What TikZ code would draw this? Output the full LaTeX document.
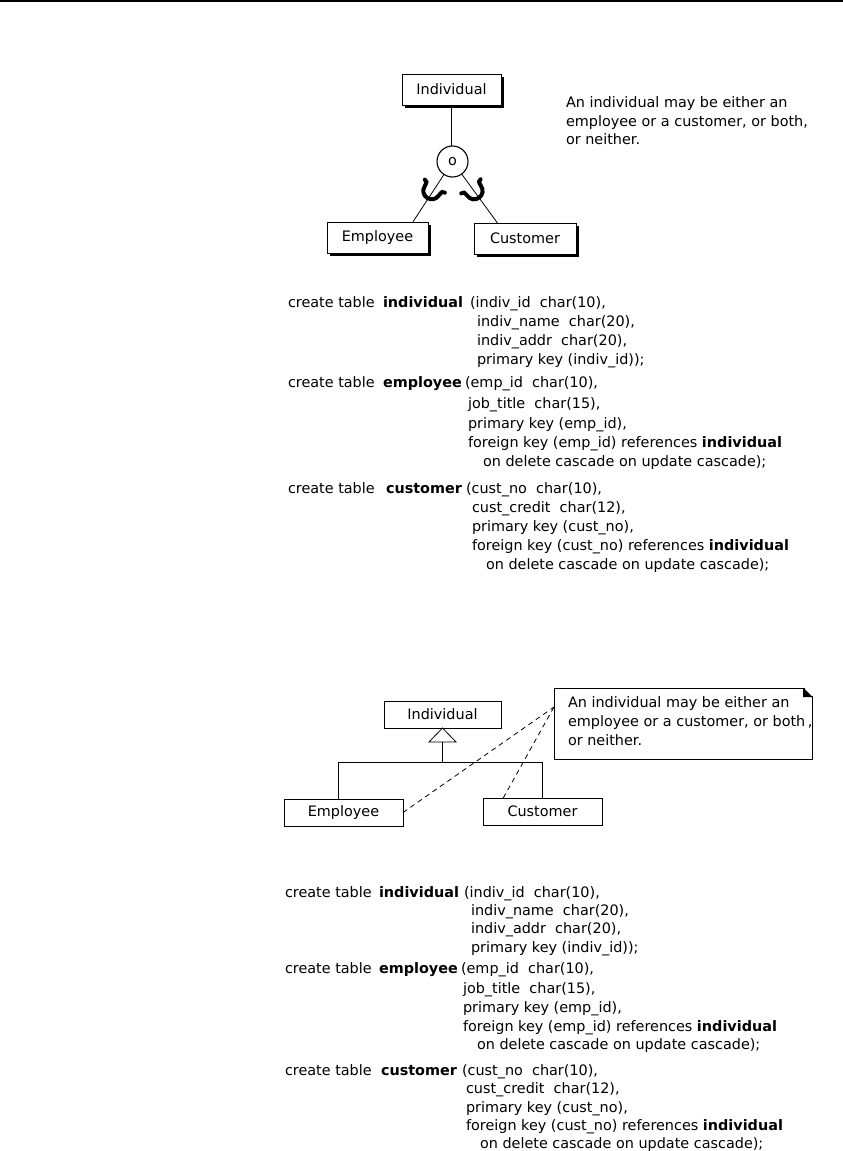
\documentclass[tikz,border=0pt]{standalone}
\usepackage{fontspec}
\setmainfont{DejaVu Sans}
\usetikzlibrary{calc,shadows}
\begin{document}
\begin{tikzpicture}[x=1pt,y=-1pt,
  font=\fontsize{14.4}{19}\selectfont,
  every node/.style={inner sep=0pt,outer sep=0pt},
  sq/.style={anchor=base west},
  erbox/.style={draw=black,line width=1pt,fill=white,
    drop shadow={shadow xshift=3pt,shadow yshift=-3pt,fill=black,opacity=1}},
  umlbox/.style={draw=black,line width=0.9pt,fill=white},
  conn/.style={draw=black,line width=0.8pt},
  noteline/.style={draw=black,line width=0.8pt,dash pattern=on 5pt off 4pt},
  subsetU/.style={line width=4pt,line cap=round}]
\useasboundingbox (0,0) rectangle (843,1151);
\fill[white] (0,0) rectangle (843,1151);
\draw[line width=2pt] (0,1) -- (843,1);

% ---------- top EER diagram ----------
\node[erbox,minimum width=99,minimum height=31] (ind1) at (451.5,89.5) {Individual};
\node[draw=black,line width=1.1pt,fill=white,circle,minimum size=31] (c1) at (452.5,161.5) {};
\node (c1o) at (c1) {o};
\node[erbox,minimum width=101,minimum height=31] (emp1) at (377.5,237.5) {Employee};
\node[erbox,minimum width=102,minimum height=31] (cus1) at (525,238.5) {Customer};
\coordinate (e1t) at ($(emp1.north west)!0.85!(emp1.north east)$);
\coordinate (c1t) at ($(cus1.north west)!0.23!(cus1.north east)$);
\draw[conn] (ind1.south) -- (ind1.south |- c1.north);
\draw[conn] (c1) -- (e1t);
\draw[conn] (c1) -- (c1t);
\begin{scope}[shift={(431,192)},rotate=-33]
  \draw[subsetU] (-12,-7) .. controls (-9,-6.5) .. (-8.5,-2) .. controls (-8.5,10) and (8.5,10) .. (8.5,-2) .. controls (9,-6.5) .. (12,-7);
\end{scope}
\begin{scope}[shift={(475,192)},rotate=36]
  \draw[subsetU] (-12,-7) .. controls (-9,-6.5) .. (-8.5,-2) .. controls (-8.5,10) and (8.5,10) .. (8.5,-2) .. controls (9,-6.5) .. (12,-7);
\end{scope}
\node[sq] (t1) at (566,107.5) {An individual may be either an};
\node[sq] (t2) at (566,126) {employee or a customer, or both,};
\node[sq] (t3) at (566,144.5) {or neither.};

% ---------- SQL block 1 ----------
\node[sq] (a1)  at (288,307.5) {create table};
\node[sq] (a1b) at (383,307.5) {\bfseries individual};
\node[sq] (a1c) at (470,307.5) {(indiv\_id~~char(10),};
\node[sq] (a2)  at (477,326.5) {indiv\_name~~char(20),};
\node[sq] (a3)  at (477,345.5) {indiv\_addr~~char(20),};
\node[sq] (a4)  at (477,364.5) {primary key (indiv\_id));};
\node[sq] (a5)  at (288,387.5) {create table};
\node[sq] (a5b) at (383,387.5) {\bfseries employee};
\node[sq] (a5c) at (465,387.5) {(emp\_id~~char(10),};
\node[sq] (a6)  at (468,408.5) {job\_title~~char(15),};
\node[sq] (a7)  at (468,428.5) {primary key (emp\_id),};
\node[sq] (a8)  at (468,447.5) {foreign key (emp\_id) references \textbf{individual}};
\node[sq] (a9)  at (483,466.5) {on delete cascade on update cascade);};
\node[sq] (a10) at (288,493.5) {create table};
\node[sq] (a10b) at (386,493.5) {\bfseries customer};
\node[sq] (a10c) at (466,493.5) {(cust\_no~~char(10),};
\node[sq] (a11) at (472,512.5) {cust\_credit~~char(12),};
\node[sq] (a12) at (472,531.5) {primary key (cust\_no),};
\node[sq] (a13) at (472,550.5) {foreign key (cust\_no) references \textbf{individual}};
\node[sq] (a14) at (486,569.5) {on delete cascade on update cascade);};

% ---------- bottom UML diagram ----------
\node[umlbox,minimum width=117,minimum height=27] (ind2) at (442.5,714.5) {Individual};
\node[umlbox,minimum width=119,minimum height=27] (emp2) at (343.5,812.5) {Employee};
\node[umlbox,minimum width=119,minimum height=27] (cus2) at (542.5,811.5) {Customer};
\draw[conn,fill=white] (ind2.south) -- ++(-13.5,14) -- ++(27,0) -- cycle;
\coordinate (tb) at ($(ind2.south)+(0,14)$);
\coordinate (bm) at ($(ind2.south)+(0,34.5)$);
\coordinate (el) at ($(emp2.north west)!0.46!(emp2.north east)$);
\draw[conn] (tb) -- (bm);
\draw[conn] (el) |- (bm) -| (cus2.north);

\node[draw=black,line width=0.9pt,fill=white,minimum width=258,minimum height=71] (note) at (683,723.5) {};
\fill[white] ($(note.north east)+(-9,-1.5)$) -- ($(note.north east)+(1.5,-1.5)$) -- ($(note.north east)+(1.5,9)$) -- cycle;
\fill[black] ($(note.north east)+(-9,0)$) -- ($(note.north east)+(0,9)$) -- ($(note.north east)+(-9,9)$) -- cycle;
\draw[line width=0.9pt] ($(note.north east)+(-9,0)$) -- ($(note.north east)+(0,9)$);
\node[sq] (n1) at (568,707.5) {An individual may be either an};
\node[sq] (n2) at (568,726.5) {employee or a customer, or both\,,};
\node[sq] (n3) at (568,745.5) {or neither.};
\coordinate (na) at ($(note.west)+(0,-16.5)$);
\draw[noteline] (emp2.east) -- (na);
\draw[noteline] ($(cus2.north west)!0.17!(cus2.north east)$) -- (na);

% ---------- SQL block 2 ----------
\node[sq] (b1)  at (285,897.5) {create table};
\node[sq] (b1b) at (379,897.5) {\bfseries individual};
\node[sq] (b1c) at (464,897.5) {(indiv\_id~~char(10),};
\node[sq] (b2)  at (471,915.5) {indiv\_name~~char(20),};
\node[sq] (b3)  at (471,933.5) {indiv\_addr~~char(20),};
\node[sq] (b4)  at (471,952.5) {primary key (indiv\_id));};
\node[sq] (b5)  at (285,973.5) {create table};
\node[sq] (b5b) at (379,973.5) {\bfseries employee};
\node[sq] (b5c) at (461,973.5) {(emp\_id~~char(10),};
\node[sq] (b6)  at (463,993.5) {job\_title~~char(15),};
\node[sq] (b7)  at (463,1012.5) {primary key (emp\_id),};
\node[sq] (b8)  at (463,1031.5) {foreign key (emp\_id) references \textbf{individual}};
\node[sq] (b9)  at (477,1049.5) {on delete cascade on update cascade);};
\node[sq] (b10) at (285,1075.5) {create table};
\node[sq] (b10b) at (381,1075.5) {\bfseries customer};
\node[sq] (b10c) at (462,1075.5) {(cust\_no~~char(10),};
\node[sq] (b11) at (466,1093.5) {cust\_credit~~char(12),};
\node[sq] (b12) at (466,1112.5) {primary key (cust\_no),};
\node[sq] (b13) at (466,1130.5) {foreign key (cust\_no) references \textbf{individual}};
\node[sq] (b14) at (480,1148.5) {on delete cascade on update cascade);};
\end{tikzpicture}
\end{document}
